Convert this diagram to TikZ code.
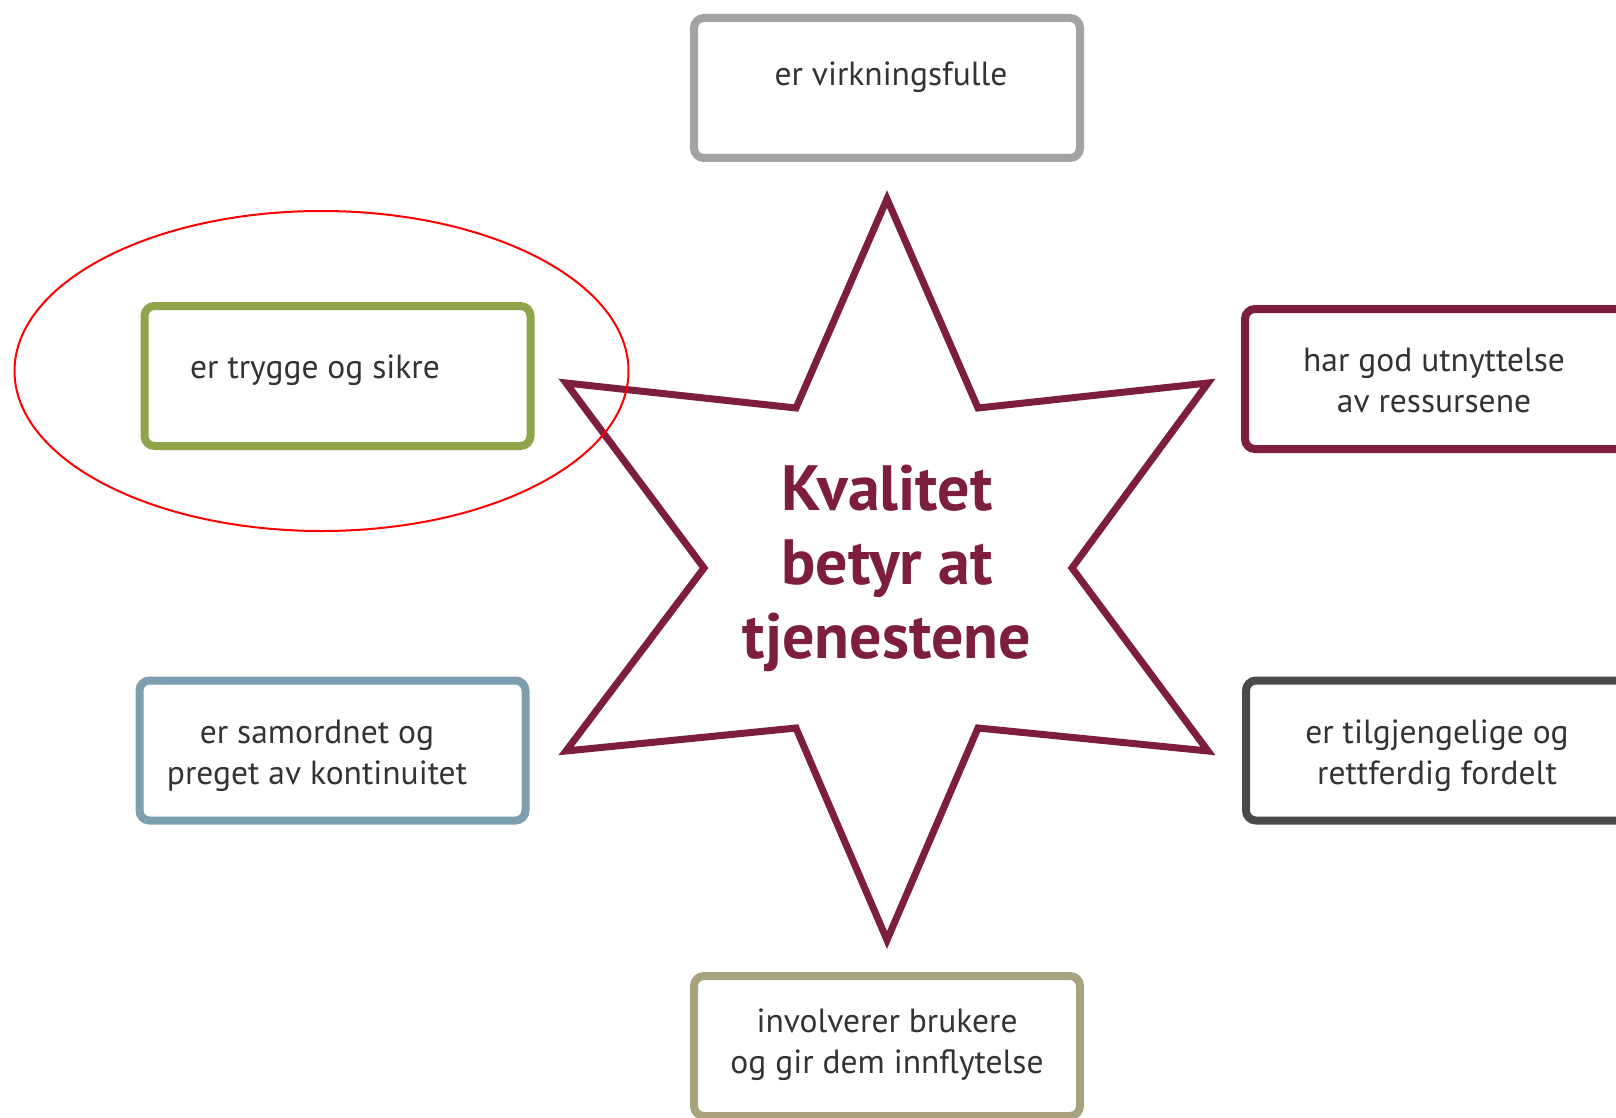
\documentclass[tikz,border=0pt]{standalone}
\usepackage{fontspec}
\setmainfont{PT Sans}
\definecolor{maroon}{HTML}{7D1E3E}
\definecolor{boxgray}{HTML}{A3A3A3}
\definecolor{boxgreen}{HTML}{8FA44B}
\definecolor{boxblue}{HTML}{7C9FB0}
\definecolor{boxdark}{HTML}{4A4A4A}
\definecolor{boxtan}{HTML}{A9A27F}
\definecolor{txt}{HTML}{333333}
\begin{document}
\begin{tikzpicture}[x=1pt,y=-1pt,
  frame/.style={draw=#1, line width=8pt, rounded corners=10pt, fill=white,
    minimum width=386pt, minimum height=140pt, inner sep=0pt},
  label/.style={text=txt, align=center, inner sep=0pt,
    font=\fontsize{33.5}{41}\selectfont},
  starline/.style={draw=maroon, line width=7pt, line join=miter},
  title/.style={text=maroon, align=center, inner sep=0pt,
    font=\fontsize{64}{74}\selectfont\bfseries}]
\useasboundingbox (0,0) rectangle (1616,1118);
\clip (0,0) rectangle (1616,1118);
\fill[white] (0,0) rectangle (1616,1118);

% boxes
\node[frame=boxgray] (btop) at (887,88) {};
\node[frame=boxgreen] (bgreen) at (337.5,376) {};
\node[frame=boxblue] (bblue) at (332.5,750.5) {};
\node[frame=maroon] (bright1) at (1438,379) {};
\node[frame=boxdark] (bright2) at (1439,750.5) {};
\node[frame=boxtan] (bbottom) at (887,1046) {};

% texts
\node[label] (ttop) at (891,77) {er virkningsfulle};
\node[label] (tgreen) at (315,370) {er trygge og sikre};
\node[label] (tblue) at (317,756) {er samordnet og\\preget av kontinuitet};
\node[label] (tright1) at (1434,380) {har god utnyttelse\\av ressursene};
\node[label] (tright2) at (1437,756) {er tilgjengelige og\\rettferdig fordelt};
\node[label] (tbottom) at (887,1045) {involverer brukere\\og gir dem innflytelse};

% star
\draw[starline] (887,199) -- (978,408) -- (1208,383) -- (1072,568) -- (1208,751)
  -- (978,728) -- (887,940) -- (796,728) -- (566,751) -- (704,568) -- (566,383)
  -- (796,408) -- cycle;
\node[title] (ttitle) at (887,568) {Kvalitet\\betyr at\\tjenestene};

% red annotation ellipse
\draw[red, line width=2pt] (321.5,371) ellipse [x radius=307, y radius=160];
\end{tikzpicture}
\end{document}
